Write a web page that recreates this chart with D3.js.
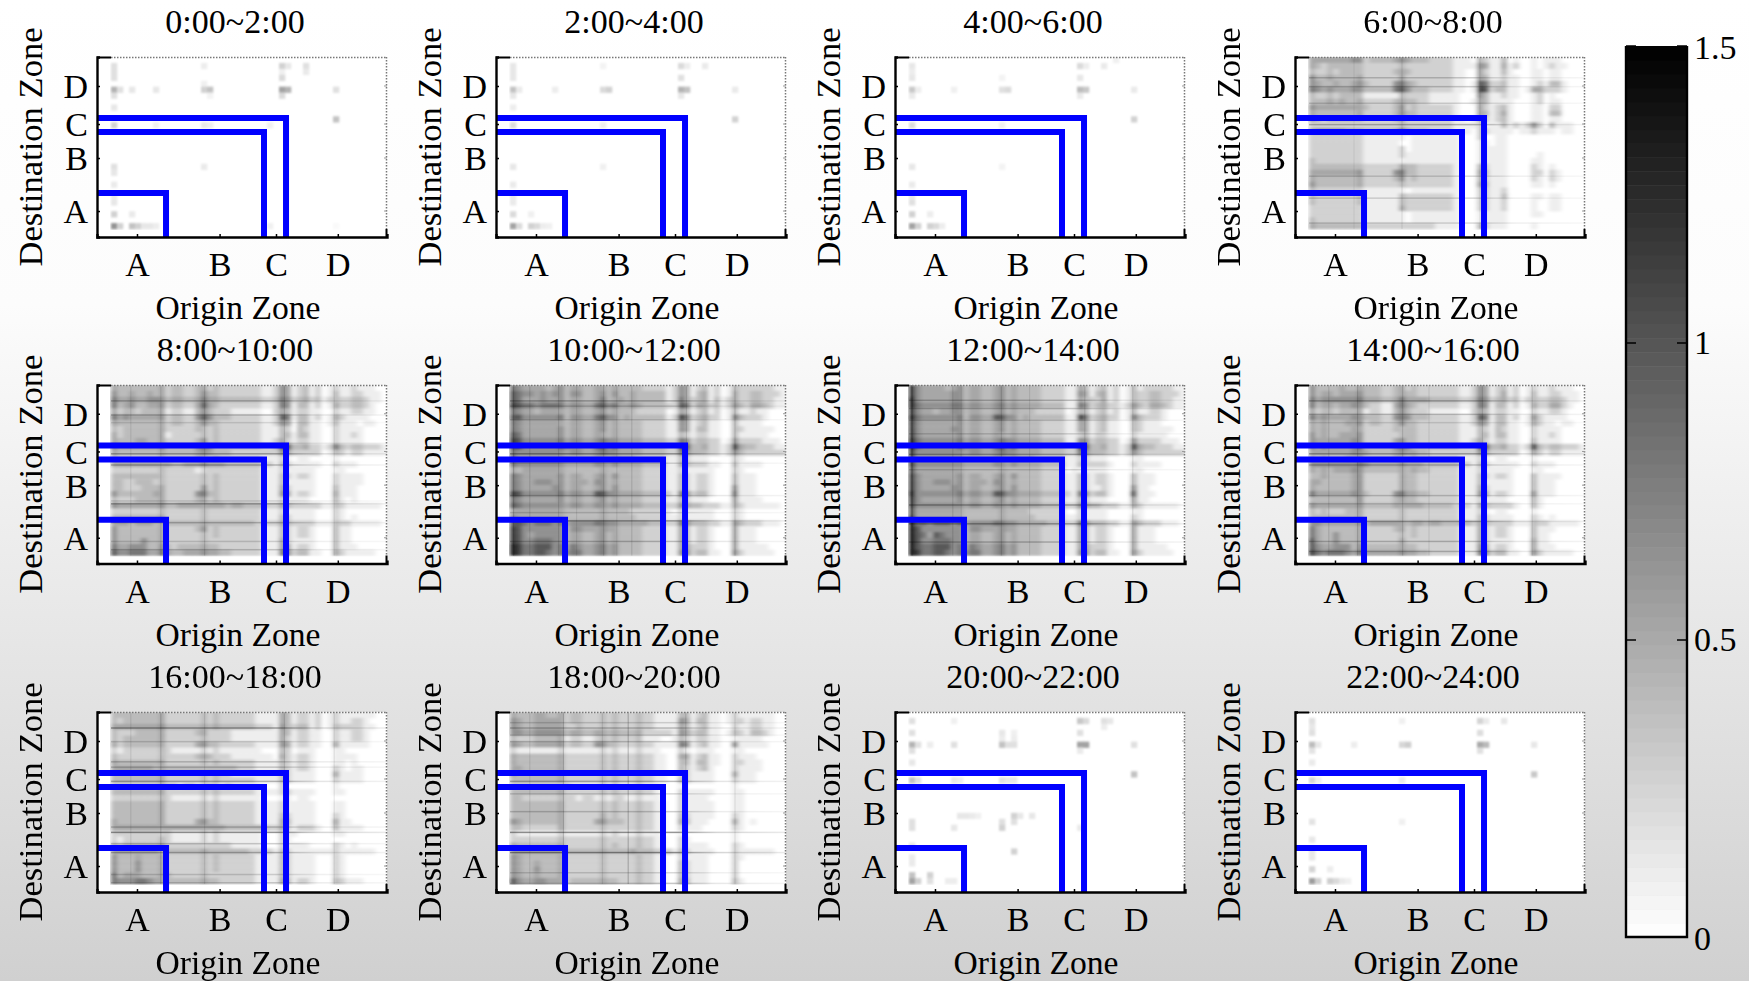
<!DOCTYPE html>
<html>
<head>
<meta charset="utf-8">
<title>OD matrices</title>
<script src="https://cdnjs.cloudflare.com/ajax/libs/d3/7.8.5/d3.min.js"></script>
<style>
body { margin: 0; background: #fff; }
svg { display: block; font-family: "Liberation Serif", serif; fill: #000; }
</style>
</head>
<body>
<svg id="mainSVG"></svg>
<script>
// panel titles, left to right, top to bottom
var titles = ["0:00~2:00", "2:00~4:00", "4:00~6:00", "6:00~8:00",
    "8:00~10:00", "10:00~12:00", "12:00~14:00", "14:00~16:00",
    "16:00~18:00", "18:00~20:00", "20:00~22:00", "22:00~24:00"];

// zone ticks and zone borders, in matrix cells
var zoneNames = ["A", "B", "C", "D"];
var xZoneTicks = [4.33, 18.1, 27.5, 37.8];
var yZoneTicks = [25.97, 17.03, 11.3, 4.89];
var xZoneEdges = [9.17, 25.5, 29.17];
var yZoneEdges = [22.93, 12.65, 10.29];

var colorTicks = [0, 0.5, 1, 1.5];
var legendSteps = d3.range(64);

// matrix size and the value each digit in the strings below stands for
var nCols = 46;
var nRows = 29;
var digitValues = [0, 0.1, 0.27, 0.4, 0.52, 0.65, 0.8, 0.98, 1.15, 1.35];
var sparseUnit = 0.18;

// busy periods: one string per destination row, one digit per origin column
var m0600 = [
"4444444552 3333454333 2222111032 1130100101 110000",
"4323333332 2222232222 2222111154 1141200101 211000",
"3223233332 2222343222 2222110042 1131000110 110000",
"5334333342 2222242222 2222110043 1121100110 110000",
"5433433453 2222564322 2222110176 2231100121 331000",
"6545444553 3333675333 2222110187 2331101442 221000",
"3223233331 1111132222 1111100053 1121100120 100000",
"3334343342 2222343322 1111100143 1111000120 110000",
"5444444443 2222352322 2222100042 1231000110 220000",
"4333333342 2222353322 2222100043 1241000110 330000",
"4323333332 2222342222 2222110132 1231000110 110000",
"2222222222 2222232222 2222111121 1131212520 311100",
"4555554443 3333464333 2222111022 1111011211 101100",
"2222222221 1111110111 1111100020 0110000000 000000",
"2222222221 1111100111 1111100011 0110000000 000000",
"2222222221 1111120111 1111100011 1110000000 000000",
"2222222221 1111121111 1111100011 1110000010 000000",
"3222222221 1111111111 1111100011 1110000110 000000",
"3333333332 2222243322 2222100032 1110000210 100000",
"4444444452 2222563322 2222100043 1110000220 210000",
"4333333342 2222352322 2222100032 1110000210 210000",
"5333333342 2222232222 2222100043 1110000110 100000",
"3222222221 1111110111 1111100022 1120000000 000000",
"3222222231 1111132222 2222100022 1130000110 110000",
"3222222231 1111132222 2222100022 1120000100 110000",
"2222222221 1111142222 2222100022 1120000100 110000",
"2222222221 1111110111 1111100011 1110000110 000000",
"3222222221 1111110111 1111100011 1110000000 000000",
"4333333332 2222222222 2111100032 1110000100 000000"];

var m0800 = [
"4333333342 3322342322 2222211254 1231201211 211100",
"5334334342 3322353322 2222211254 1231201311 221110",
"6445445553 4433464433 3333322365 2342312322 332110",
"6345334452 3322474322 2222211265 1331201422 332100",
"4233233341 2211353222 1111100243 1221100211 221100",
"6454444452 3322575333 2222211276 1331201421 111000",
"4333333342 3322353322 2222211254 0331101311 101100",
"3233333342 2222332322 2222211132 0321100211 110000",
"4233333341 2222232322 2222211133 1331100211 210000",
"4333443342 2222352322 2222211242 1221100211 110000",
"5444444453 3333565333 3333322377 3342212632 332221",
"4333333343 3333454333 2222222254 2222201321 221111",
"3222222232 2222332322 2222211121 0110000100 000000",
"4444444444 3344454443 3333322132 1111100211 100000",
"2222222232 2222122222 2222211121 1111000110 000000",
"3333333332 2222232322 2222211132 1221000211 110000",
"3322333232 2222232322 2222211131 1111000211 110000",
"3322233342 2222252322 2222211142 1111000311 100000",
"5333333442 2222563322 2222211154 1221000411 100000",
"3222333342 2222342322 2222211121 1110000310 100000",
"5444444453 3444444443 4433332243 2222211321 111110",
"2222222232 2222232222 2222211121 1111000210 000000",
"3333333342 2222232222 2222211132 1111000210 100000",
"4443444343 3333343333 3333222243 2222111322 111110",
"5333333342 2222352322 2222211132 1221000311 000000",
"5333333342 2222232322 2222211132 1221000311 000000",
"5333353342 2222232222 2222211142 1111000311 000000",
"6445553353 2333343322 2222211144 1221000311 100000",
"7556664464 3344454433 2222211165 2331100421 111100"];

var m1000 = [
"6544443453 4433443433 3322221254 1231201322 222211",
"7655454553 5533453533 4333331254 1341201422 332221",
"7644454453 4433463443 4333331264 2341312422 332211",
"8766566664 5544675644 5433332276 2442312532 443211",
"6544344443 4433453433 3222220143 1231201311 211000",
"7755555563 5544675534 3333331286 2342201632 221000",
"6544444443 4433453433 3322221154 1231100311 110000",
"6544444453 4433453433 3322221154 1331100321 111100",
"7644444453 4433443433 3322221132 1221100311 111000",
"8755555564 5544565544 4433332265 2332201522 221110",
"7755555565 5544675644 4433332287 3342212843 322211",
"6555555554 5544565544 4433332265 3332212532 222222",
"6444444443 3333443433 3222221132 1110000210 000000",
"6555555554 4444554544 4433331143 2221100311 110000",
"4344444443 3333343333 3322221121 1111000210 000000",
"6544444453 4433453533 3322221132 1221000311 100000",
"6544555453 4443553433 3322221132 1221000311 100000",
"6544444553 4433453533 3322221132 1221000511 100000",
"8755555564 5544775544 4433332165 2331000611 100000",
"6544444453 4433453433 3322221132 1110000411 110000",
"7655555554 5544554544 4433332254 3322211421 111110",
"4444444443 3333343333 2222221021 1111000210 000000",
"5444444443 3333343333 3222221121 1111000210 000000",
"7765666564 5555665544 4443332265 3332211532 221110",
"8755555553 5544454433 3322221143 1221000411 100000",
"8754555553 4433453433 3322221143 1221000411 100000",
"8755666553 4433453433 3322221143 1221000411 100000",
"9866777564 6544564533 3322221144 2221000411 111000",
"9866776565 6644564533 3322221155 2331100521 111100"];

var m1200 = [
"8544443453 4433453433 3322221143 1231201312 222211",
"8544444553 4433453433 3322221154 1341201322 332221",
"9544444553 4433453433 3322221143 2241201322 332211",
"9655555664 5544564544 4433331165 2342212532 443211",
"8544344553 4433453433 3222220133 1231201311 221000",
"9655555563 5544775534 3333331186 2342201632 221000",
"8544444453 4433453433 3322221144 1231100321 110000",
"8544444553 4433453433 3322221144 1231100321 111100",
"8544444453 4433443433 3322221123 1221100211 111000",
"9655555564 5544565544 4433331155 2332201522 221110",
"9655555565 5544675644 4433332287 3342212843 322211",
"8555555554 5544565544 4433332265 3332212532 222222",
"7444444443 3333443433 3222221122 1110000110 000000",
"8555555554 4444554544 4433331132 2221000211 110000",
"7444444443 3333343333 3322220111 1110000110 000000",
"8544444453 4433453533 3322221132 1221000311 100000",
"8544555453 4443553433 3322221132 1221000311 100000",
"8544444553 4433453533 3322221132 1121000511 000000",
"9555555564 5544775544 4433332165 2331000711 100000",
"8544444453 4433453433 3322221132 1110000411 000000",
"8555555554 5544554544 4433332254 3322211421 111110",
"7444444443 3333343333 2222220021 1110000110 000000",
"8444444443 3333343333 3222221121 1110000210 000000",
"9665666564 5555665544 4443332265 3332211532 221110",
"9755555553 5544454433 3322221143 1221000411 100000",
"9764765553 4433453433 3322221143 1221000411 100000",
"9755666553 4433453433 3322221143 1221000411 100000",
"9766777564 6544564533 3322221144 2221000411 111000",
"9866776565 6644564533 3322221155 2331100521 111100"];

var m1400 = [
"5333343343 3322342322 2222211254 1231201211 211100",
"5344344453 3322343322 2222211254 1241201311 221110",
"6455555564 4433464444 3333322365 2342312322 332110",
"6344344553 2211464322 2222211265 1331201422 442100",
"4233233341 2211353222 1111100243 1221100211 221000",
"6454444553 3322565333 2222211276 1331201521 111000",
"4343334452 3322353322 2222211254 1331101421 101100",
"4343333442 2222333322 2222211132 1321100211 110000",
"5343344452 2222233322 2222211133 1331100211 210000",
"5444444552 2222453322 2222211242 1221100311 110000",
"5454444563 3333565333 3333322277 3342212832 332221",
"4444444554 3333454433 2222222254 2222201421 221111",
"3232223342 2222332322 2222211121 0110000100 000000",
"5555555565 4444454443 3333322132 1111100211 100000",
"4343444553 3333343433 2222211121 1111000110 000000",
"3343333452 2222243322 2222211132 1221000311 110000",
"4433333452 2222243322 2222211131 1111000311 100000",
"4333333452 2222243322 2222211142 1111000311 100000",
"6444444553 2222564433 2222211154 1221000511 100000",
"3333333352 2222343322 2222211121 1110000310 000000",
"5444444453 3333444443 3333222143 2222100310 000000",
"3232223342 2222232222 2222211121 0110000100 000000",
"3333333342 2222232222 2222211132 1111000210 100000",
"5544444453 4444443443 4433333243 2222111322 111110",
"6433333342 2222342322 2222211142 1221000311 100000",
"6433533342 2222232322 2222211142 1221000311 000000",
"7433533342 2222242222 2222211142 1111000411 000000",
"7544555353 3333343322 2222211154 1221000411 100000",
"8656665464 4444454433 2222211165 2331100521 111100"];

var m1600 = [
"3333333342 2222232322 2222111143 1221201211 111100",
"3233333342 2222232322 2222111143 1221201211 221000",
"4444444453 3333343433 3333222153 2331201322 221100",
"3222333342 2222342222 1111111143 1221100211 221000",
"3233333342 2222232222 1111111142 1221100211 221000",
"4233333342 2222453322 2222111154 1221100411 111000",
"2122222232 1111121211 1111100032 0111000110 000000",
"3222222232 2222343222 1111111042 1221000111 100000",
"4333333342 2222232322 2222111132 1221000110 100000",
"4444444343 3333333333 3222111132 1221000210 110000",
"3333333342 2222232322 1111111132 1111000411 110000",
"3333333342 2222232322 2222111132 1111000211 110000",
"2222222232 2122122212 1111100020 0000000100 000000",
"3333333342 2222232322 2222111122 1111000110 000000",
"2222222232 1111121211 1111100011 0110000000 000000",
"3333333342 2222232322 2222111121 1111000110 000000",
"3333333342 2222232322 2222111121 1111000110 000000",
"3333333342 2222232322 2222111132 1111000210 000000",
"4333333342 2222453322 2222111143 1111000411 000000",
"4444444444 4444444443 3333332242 1222100311 110000",
"2222222222 1111121211 1111100021 1000000110 000000",
"2122222232 1111121211 1111100021 0000000000 000000",
"3233333342 2222222222 1111100021 1110000210 100000",
"4444444433 3333343333 3332222132 1111111211 111100",
"5333433342 2222232322 2222111132 1111000210 000000",
"5333533342 2222232322 2222111132 1111000210 000000",
"5333533342 2222232322 2222111132 1111000210 000000",
"6344433343 2222232222 2222111132 1111000210 000000",
"6555665443 3333343322 2222111143 1221000321 110000"];

var m1800 = [
"4333443342 3322232322 2322111133 1231101211 111100",
"5433444442 3322232322 2322111154 1331101221 221100",
"5433444442 2322232322 2322111143 1231100211 221100",
"5544555553 4433443433 3422222154 2331101321 332100",
"3222333341 2211232322 2311100132 1221100111 110000",
"5433444452 3322553322 2322111165 1231100511 111000",
"2111111121 1111121211 1211100021 0111000110 000000",
"4333333342 2222232322 2322110044 1231100211 100000",
"4333333342 2222232322 2322110033 1331100221 110000",
"4433333342 2222232322 2322110032 1231000211 110000",
"4333333342 2222232322 2322110022 1111000411 100000",
"3333333342 2222232322 2322110032 1111000211 100000",
"2222222222 1111121211 1211100010 0000000100 000000",
"3333333342 2222232322 2322100021 1111000110 000000",
"3322222232 2122121221 1211100021 1110000110 000000",
"3333333342 2222232322 2322110021 1111000110 000000",
"3333333342 2222232322 2322110021 1111000110 000000",
"3333333342 2222242322 2322110032 1111000210 000000",
"5433333342 2222453332 2322110043 1110000410 100000",
"3322222242 2222232222 2322110021 1100000210 000000",
"2111111121 1111121211 1211100010 0000000100 000000",
"2222222232 2222232222 2322110021 0000000100 000000",
"4333333342 2222232322 2322110021 1110000210 000000",
"4444444443 3333343333 4333222132 1111000211 111100",
"5433333342 2222232222 2322110021 1110000210 000000",
"5433433342 2222232222 2322110032 1110000200 000000",
"5433533342 2222232222 2322110032 1110000200 000000",
"5433433342 2222232222 2322110032 1110000200 000000",
"7544554442 3333343322 2322110043 1110000310 000000"];

// quiet periods: only a few cells are non zero, [column, row, amount]
var s0000 = [[0,1,1],[0,2,1],[0,3,1],[0,5,2.5],[1,5,1],[0,6,1],[0,8,0.8],[0,11,1.5],[0,18,1],[0,19,0.8],
    [0,21,0.7],[0,23,0.7],[0,24,0.8],[0,26,1.5],[0,28,3.5],[1,28,1.5],[3,26,0.7],[3,28,2],[4,28,1.5],[5,28,0.8],
    [6,28,0.8],[7,28,0.6],[3,5,0.8],[7,5,0.8],[7,11,0.5],[15,1,0.6],[15,4,0.5],[15,5,1.5],[16,5,2],[16,6,0.4],
    [15,11,0.8],[16,11,0.6],[15,18,0.7],[28,1,1.5],[29,1,0.8],[28,2,0.5],[28,3,1.2],[28,5,3],[29,5,2.5],[28,6,1.2],
    [32,1,1],[32,2,0.7],[37,5,1],[37,10,2],[26,28,0.5],[26,11,0.5],[37,28,0.2]];
var s0200 = [[0,1,0.8],[0,2,0.8],[0,3,0.8],[0,5,2],[1,5,0.7],[0,6,0.8],[0,8,0.6],[0,11,1.2],[0,18,0.8],[0,21,0.7],
    [0,23,0.7],[0,24,0.7],[0,26,1.2],[0,28,3],[1,28,1.2],[3,26,0.5],[3,28,1.5],[4,28,1.2],[5,28,0.6],[6,28,0.5],
    [7,5,0.6],[15,1,0.4],[15,5,1.2],[16,5,1.5],[15,11,0.6],[15,18,0.5],[28,1,1.2],[29,1,0.6],[28,3,1],[28,5,2.5],
    [29,5,2],[28,6,0.8],[32,1,0.7],[37,5,0.7],[37,10,1.5]];
var s0400 = [[0,1,0.8],[0,2,0.6],[0,3,0.8],[0,5,1.8],[1,5,0.6],[0,6,0.7],[0,11,1.2],[0,18,0.8],[0,21,0.7],[0,23,0.8],
    [0,24,1],[0,26,1.5],[0,28,3],[1,28,1.5],[3,26,0.6],[3,28,1.5],[4,28,1.2],[5,28,0.6],[7,5,0.5],[15,3,0.4],
    [15,5,1],[16,5,1.2],[15,11,0.5],[15,18,0.4],[28,1,1.2],[29,1,0.6],[28,3,0.8],[28,5,2.2],[29,5,1.8],[28,6,0.7],
    [32,1,0.7],[34,0,0.5],[37,5,0.7],[37,10,1.5]];
var s2000 = [[0,1,1],[0,3,1],[0,5,2.5],[1,5,1],[0,6,1],[0,8,0.8],[0,11,2],[1,11,1],[0,18,1],[0,19,1],
    [0,22,0.8],[0,24,0.7],[0,25,0.7],[0,27,2],[0,28,3],[1,28,1.5],[3,27,1.5],[3,28,1],[6,28,0.6],[7,28,0.6],
    [3,5,0.6],[7,1,0.5],[7,5,1],[7,11,0.8],[8,17,0.8],[9,17,0.8],[10,17,0.7],[11,17,0.5],[8,11,0.6],[7,19,0.8],
    [15,3,0.8],[15,4,0.6],[15,5,2],[16,5,1],[15,11,1],[16,11,0.8],[15,18,1],[15,19,1.5],[17,3,0.5],[17,4,0.6],
    [17,5,1],[17,11,0.8],[17,17,1.5],[17,18,1],[17,23,1.5],[18,17,0.8],[20,17,0.8],[28,1,1.8],[29,1,1.2],[28,3,1],
    [28,5,3],[29,5,3],[28,6,0.7],[28,19,0.7],[32,1,1],[33,1,0.8],[32,2,0.6],[37,5,1],[37,10,2]];
var s2200 = [[0,1,1],[0,2,0.8],[0,3,1],[0,5,2.2],[1,5,0.8],[0,6,0.9],[0,8,0.7],[0,11,1.4],[1,11,0.6],[0,18,0.9],
    [0,21,0.8],[0,23,0.8],[0,24,0.8],[0,26,1.4],[0,28,3.2],[1,28,1.5],[3,26,0.6],[3,28,1.6],[4,28,1.2],[5,28,0.7],
    [6,28,0.5],[7,5,0.6],[15,1,0.5],[15,5,1.3],[16,5,1.6],[15,11,0.7],[15,18,0.5],[28,1,1.4],[29,1,0.7],[28,3,1.1],
    [28,5,2.8],[29,5,2.3],[28,6,1],[32,1,0.8],[37,5,0.8],[37,10,1.8]];

// thin dark lines that run through the busy matrices, [position, darkness]
var r0600 = [[3.5,.25],[5,.25],[7.8,.2],[11.4,.35],[20.1,.2],[23.8,.2],[28,.2]];
var c0600 = [[7.5,.1],[15.5,.15],[28.5,.15]];
var r0800 = [[2.7,.3],[5.1,.3],[6.4,.15],[9.9,.15],[11.7,.4],[13.6,.3],[19.7,.15],[20.2,.4],[23.4,.3],[26.6,.2],[28,.25]];
var c0800 = [[3.3,.15],[8.3,.15],[15.6,.2],[28.9,.2],[37.2,.15]];
var r1000 = [[2.7,.35],[3.6,.2],[5.9,.2],[11.7,.45],[13.3,.2],[18.8,.3],[21.7,.2],[23.1,.45],[26.6,.3]];
var c1000 = [[0.6,.3],[3.3,.2],[8.1,.2],[11.1,.15],[15.6,.2],[17.8,.15],[20.3,.2],[29.4,.2],[37.5,.2]];
var r1200 = [[2.6,.3],[4,.25],[6,.2],[8.3,.2],[11.8,.4],[14.4,.2],[20.4,.4],[23.6,.4],[26.7,.3]];
var c1200 = [[0.5,.5],[7.3,.2],[8.7,.15],[15.4,.2],[20.1,.15],[29.3,.2],[37.3,.2]];
var r1400 = [[2.7,.35],[5,.3],[6.4,.15],[11.7,.4],[13.6,.25],[18.8,.25],[20.2,.2],[23.2,.4],[26.6,.3],[28.3,.3]];
var c1400 = [[3.3,.2],[8.1,.25],[15.6,.2],[20,.15],[28.9,.2],[37.2,.2]];
var r1600 = [[2.7,.45],[5,.2],[8.4,.25],[9.3,.25],[11.7,.35],[19.4,.25],[20.3,.55],[22.2,.25],[23.7,.35],[27.4,.2],[28.8,.25]];
var c1600 = [[3.3,.15],[8.3,.25],[15.6,.15],[28.9,.2],[37.2,.15]];
var r1800 = [[1.8,.2],[2.7,.3],[3.9,.2],[5,.25],[11.7,.35],[13.8,.2],[16.8,.25],[20.3,.55],[23.7,.55],[27.1,.2],[28.9,.3]];
var c1800 = [[3.3,.15],[8.9,.3],[15.4,.15],[19.7,.35],[29.3,.2],[37.5,.15]];

var panels = [s0000, s0200, s0400, m0600, m0800, m1000, m1200, m1400, m1600, m1800, s2000, s2200];
var rowLines = [[], [], [], r0600, r0800, r1000, r1200, r1400, r1600, r1800, [], []];
var colLines = [[], [], [], c0600, c0800, c1000, c1200, c1400, c1600, c1800, [], []];

// layout of the page
var pageW = 1749;
var pageH = 981;
var panelLefts = [97, 496, 895, 1295];
var panelTops = [57, 385, 712];
var panelW = 290;
var panelHs = [180, 178.5, 180];

var svg = d3.select("#mainSVG")
    .attr("width", pageW)
    .attr("height", pageH);

// grey page background that gets darker downwards
var defs = svg.append("defs");
var bgGrad = defs.append("linearGradient")
    .attr("id", "bgGrad")
    .attr("x1", 0).attr("y1", 0).attr("x2", 0).attr("y2", 1);
bgGrad.append("stop").attr("offset", 0).attr("stop-color", "#ffffff");
bgGrad.append("stop").attr("offset", 0.31).attr("stop-color", "#fcfcfc");
bgGrad.append("stop").attr("offset", 0.61).attr("stop-color", "#e9e9e9");
bgGrad.append("stop").attr("offset", 1).attr("stop-color", "#d0d0d0");

// row lines are weaker in the white part on the right
var lineFade = defs.append("linearGradient")
    .attr("id", "lineFade")
    .attr("x1", 0).attr("y1", 0).attr("x2", 1).attr("y2", 0);
lineFade.append("stop").attr("offset", 0.6).attr("stop-color", "#000").attr("stop-opacity", 0.75);
lineFade.append("stop").attr("offset", 0.75).attr("stop-color", "#000").attr("stop-opacity", 0.3);
lineFade.append("stop").attr("offset", 1).attr("stop-color", "#000").attr("stop-opacity", 0.15);

function addBlur(id, amount) {
    defs.append("filter")
        .attr("id", id)
        .attr("x", "-5%").attr("y", "-5%").attr("width", "110%").attr("height", "110%")
        .append("feGaussianBlur").attr("stdDeviation", amount);
}
addBlur("softDense", "2 1.3");
addBlur("softSparse", "1");
addBlur("softLine", "0.4");

svg.append("rect")
    .attr("width", pageW)
    .attr("height", pageH)
    .attr("fill", "url(#bgGrad)");

var color = d3.scaleLinear().domain([0, 1.5]).range(["#ffffff", "#000000"]).clamp(true);

// turn a panel's data into cells
function panelCells(data) {
    var cells = [];
    if (typeof data[0] == "string") {
        data.forEach(function(row, r) {
            row.replace(/ /g, "").split("").forEach(function(ch, c) {
                if (+ch > 0) { cells.push({ c: c, r: r, v: digitValues[+ch] }); }
            });
        });
    } else {
        data.forEach(function(d) {
            cells.push({ c: d[0], r: d[1], v: d[2] * sparseUnit });
        });
    }
    return cells;
}

function drawPanel(id) {
    var col = id % 4;
    var row = Math.floor(id / 4);
    var panelH = panelHs[row];
    var dense = typeof panels[id][0] == "string";

    // 14px white band left of the matrix, 8px below it
    var x = d3.scaleLinear().domain([-14 / 6, nCols]).range([0, panelW]);
    var y = d3.scaleLinear().domain([0, nRows + 8 / 5.93]).range([0, panelH]);

    var g = svg.append("g")
        .attr("class", "panel")
        .attr("transform", "translate(" + panelLefts[col] + "," + panelTops[row] + ")");

    g.append("rect")
        .attr("width", panelW)
        .attr("height", panelH)
        .attr("fill", "#fff");

    g.append("clipPath")
        .attr("id", "clip" + id)
        .append("rect")
        .attr("x", x(0) - 1)
        .attr("width", x(nCols) - x(0) + 1)
        .attr("height", y(nRows) + 1);

    var inner = g.append("g")
        .attr("clip-path", "url(#clip" + id + ")");

    inner.append("g")
        .attr("filter", dense ? "url(#softDense)" : "url(#softSparse)")
        .selectAll("rect")
        .data(panelCells(panels[id]))
        .enter()
        .append("rect")
        .attr("x", function(d) { return x(d.c); })
        .attr("y", function(d) { return y(d.r); })
        .attr("width", x(1) - x(0) + 0.3)
        .attr("height", y(1) - y(0) + 0.3)
        .attr("fill", function(d) { return color(d.v); });

    // thin lines through the matrix
    var lines = inner.append("g").attr("filter", "url(#softLine)");
    lines.selectAll(".rowLine")
        .data(rowLines[id])
        .enter()
        .append("rect")
        .attr("class", "rowLine")
        .attr("x", x(0))
        .attr("y", function(d) { return y(d[0]) - 0.75; })
        .attr("width", x(nCols) - x(0))
        .attr("height", 1.5)
        .attr("fill", "url(#lineFade)")
        .attr("opacity", function(d) { return d[1]; });
    lines.selectAll(".colLine")
        .data(colLines[id])
        .enter()
        .append("rect")
        .attr("class", "colLine")
        .attr("x", function(d) { return x(d[0]) - 0.6; })
        .attr("y", 0)
        .attr("width", 1.2)
        .attr("height", y(nRows))
        .attr("fill", "#000")
        .attr("opacity", function(d) { return d[1] * 0.6; });

    // dotted top and right edges, only over the matrix
    g.append("path")
        .attr("d", "M" + x(0) + ",0.5H" + panelW + "M" + (panelW - 0.5) + ",0V" + y(nRows))
        .attr("fill", "none")
        .attr("stroke", "#777")
        .attr("stroke-width", 1.5)
        .attr("stroke-dasharray", "1.5,1.5");
    g.append("path")
        .attr("d", "M0,0.5H" + x(0) + "M" + (panelW - 0.5) + "," + y(nRows) + "V" + panelH)
        .attr("fill", "none")
        .attr("stroke", "#000")
        .attr("stroke-width", 2);

    // faint ticks on the right
    g.selectAll(".rTick")
        .data(yZoneTicks)
        .enter()
        .append("line")
        .attr("x1", panelW - 3)
        .attr("x2", panelW)
        .attr("y1", function(d) { return y(d); })
        .attr("y2", function(d) { return y(d); })
        .attr("stroke", "#999");

    // blue zone borders
    g.selectAll(".zone")
        .data(d3.range(3))
        .enter()
        .append("path")
        .attr("d", function(d) {
            return "M0," + y(yZoneEdges[d]) + "H" + x(xZoneEdges[d]) + "V" + panelH;
        })
        .attr("fill", "none")
        .attr("stroke", "#0000ff")
        .attr("stroke-width", 6);

    // axes
    var xAxis = d3.axisBottom(x)
        .tickValues(xZoneTicks)
        .tickFormat(function(d, i) { return zoneNames[i]; })
        .tickSize(-3)
        .tickPadding(14.9);
    var yAxis = d3.axisLeft(y)
        .tickValues(yZoneTicks)
        .tickFormat(function(d, i) { return zoneNames[i]; })
        .tickSize(-3)
        .tickPadding(9);

    g.append("g").attr("transform", "translate(0," + panelH + ")").call(xAxis);
    var yAxisG = g.append("g").call(yAxis);
    yAxisG.selectAll("text").attr("dy", "0.35em");

    g.selectAll(".domain")
        .attr("stroke", "#000")
        .attr("stroke-width", 2.4);
    g.selectAll(".tick line")
        .attr("stroke", "#000")
        .attr("stroke-width", 1.5);
    g.selectAll(".tick text")
        .attr("font-family", "Liberation Serif")
        .attr("font-size", 34)
        .attr("fill", "#000");

    // labels
    g.append("text")
        .attr("x", panelW / 2 - 7)
        .attr("y", -24)
        .attr("text-anchor", "middle")
        .attr("font-size", 34)
        .text(titles[id]);
    g.append("text")
        .attr("x", panelW / 2 - 4)
        .attr("y", panelH + 82)
        .attr("text-anchor", "middle")
        .attr("font-size", 33.6)
        .text("Origin Zone");
    g.append("text")
        .attr("transform", "translate(-55," + (panelH / 2) + ") rotate(-90)")
        .attr("text-anchor", "middle")
        .attr("font-size", 34.6)
        .text("Destination Zone");
}

// colorbar on the right
function drawLegend() {
    var left = 1626;
    var barW = 61;
    var barScale = d3.scaleLinear().domain([0, 1.5]).range([937, 46]);
    var stepV = 1.5 / legendSteps.length;
    var g = svg.append("g").attr("class", "legend");

    g.selectAll("rect")
        .data(legendSteps)
        .enter()
        .append("rect")
        .attr("x", left)
        .attr("y", function(d) { return barScale((d + 1) * stepV); })
        .attr("width", barW)
        .attr("height", barScale(0) - barScale(stepV) + 0.5)
        .attr("fill", function(d) { return color((d + 0.5) * stepV); });

    g.append("path")
        .attr("d", "M" + left + ",46V937H" + (left + barW) + "V46")
        .attr("fill", "none")
        .attr("stroke", "#000")
        .attr("stroke-width", 2.4);

    var axis = g.selectAll(".cTick")
        .data(colorTicks)
        .enter()
        .append("g")
        .attr("class", "cTick")
        .attr("transform", function(d) { return "translate(" + left + "," + barScale(d) + ")"; });
    axis.append("path")
        .attr("d", "M0,0H10M" + (barW - 10) + ",0H" + barW)
        .attr("stroke", "#000")
        .attr("stroke-width", 1.5);
    axis.append("text")
        .attr("x", barW + 7)
        .attr("y", function(d) { return d == 1.5 ? 13 : (d == 0 ? 13 : 11); })
        .attr("font-size", 34)
        .text(function(d) { return d; });
}

d3.range(12).forEach(drawPanel);
drawLegend();
</script>
</body>
</html>
